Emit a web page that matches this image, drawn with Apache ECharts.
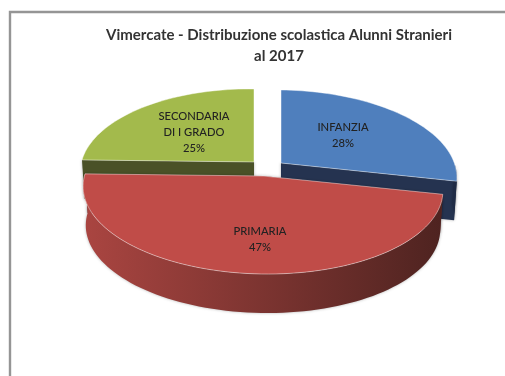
<!DOCTYPE html>
<html>
<head>
<meta charset="utf-8">
<style>html,body{margin:0;padding:0;background:#fff}#c{width:505px;height:376px}</style>
<script src="https://cdn.jsdelivr.net/npm/echarts@6/dist/echarts.min.js"></script>
</head>
<body>
<div id="c"></div>
<script>
const titleLines = ['Vimercate - Distribuzione scolastica Alunni Stranieri', 'al 2017'];
const categories = ['INFANZIA', 'PRIMARIA', 'SECONDARIA\nDI I GRADO'];
const values = [28, 47, 25];

// Presentation only: exploded apex, radius, label anchor and colours of each slice.
const looks = [
  {cx: 281, cy: 163, rx: 174, lx: 343, ly: 135, rank: 2, top: '#4f7fbd', cut: '#253350', side: ['#1f2b45', '#1f2b45']},
  {cx: 263, cy: 176, rx: 178, lx: 260, ly: 239, rank: 3, top: '#c04c48', cut: '#7a2e2c', side: ['#aa4541', '#4e2320']},
  {cx: 254, cy: 162, rx: 172, lx: 194, ly: 132.5, rank: 1, top: '#a3ba4c', cut: '#4a5127', side: ['#4a5127', '#4a5127']}
];
const RY = 83.7, PERSP = 0.146, TILT = 0.012, DEPTH = 39, SHRINK = 0.985;
const total = values.reduce((a, b) => a + b, 0);

function project(look, deg, bottom) {
  const t = deg * Math.PI / 180, u = Math.sin(t), v = Math.cos(t);
  const s = 1 / (1 + PERSP * v);
  const k = bottom ? SHRINK : 1;
  const dx = look.rx * u * s * k;
  return [look.cx + dx, look.cy - RY * v * s + TILT * dx + (bottom ? DEPTH : 0)];
}
function arc(look, a0, a1, bottom) {
  const pts = [];
  const n = Math.max(2, Math.ceil(Math.abs(a1 - a0) / 2));
  for (let i = 0; i <= n; i++) pts.push(project(look, a0 + (a1 - a0) * i / n, bottom));
  return pts;
}
function cutFace(look, deg) {
  const e0 = project(look, deg, false), e1 = project(look, deg, true);
  return [[look.cx, look.cy], e0, e1, [look.cx, look.cy + DEPTH]];
}
function poly(points, style, z2) {
  return {type: 'polygon', shape: {points}, style, z2};
}

function renderSlice(params, api) {
  const i = params.dataIndex, look = looks[i], val = api.value(1);
  let before = 0;
  for (let j = 0; j < i; j++) before += values[j];
  const a0 = before / total * 360, a1 = (before + val) / total * 360;
  const base = look.rank * 10, kids = [];
  const shade = {shadowBlur: 3, shadowColor: 'rgba(0,0,0,0.3)'};

  kids.push(poly(cutFace(look, a0), Object.assign({fill: look.cut}, shade), base));
  kids.push(poly(cutFace(look, a1), Object.assign({fill: look.cut}, shade), base));

  const f0 = Math.max(a0, 90), f1 = Math.min(a1, 270);
  if (f1 > f0) {
    const wall = arc(look, f0, f1, false).concat(arc(look, f1, f0, true));
    kids.push(poly(wall, Object.assign({
      fill: new echarts.graphic.LinearGradient(0, 0, 1, 0, [
        {offset: 0, color: look.side[0]},
        {offset: 1, color: look.side[1]}
      ], false)
    }, shade), base + 1));
  }
  const face = [[look.cx, look.cy]].concat(arc(look, a0, a1, false));
  kids.push(poly(face, {fill: look.top, stroke: 'rgba(255,255,255,0.55)', lineWidth: 0.8}, base + 2));
  kids.push({
    type: 'text', z2: 100,
    style: {
      x: look.lx, y: look.ly,
      text: categories[i] + '\n' + Math.round(val / total * 100) + '%',
      align: 'center', verticalAlign: 'middle',
      font: '500 11.2px Lato', lineHeight: 16, fill: '#222'
    }
  });
  return {type: 'group', children: kids};
}

const chart = echarts.init(document.getElementById('c'), null, {renderer: 'canvas'});
chart.setOption({
  animation: false,
  backgroundColor: '#fff',
  title: {
    text: titleLines.join('\n'),
    left: 274, top: 20, textAlign: 'center',
    textStyle: {fontFamily: 'Lato', fontSize: 15, fontWeight: 'bold', color: '#333', lineHeight: 21}
  },
  graphic: [{
    type: 'rect', silent: true, z: -1,
    shape: {x: 10, y: 12, width: 700, height: 600},
    style: {fill: '#fff', stroke: '#959595', lineWidth: 2.4}
  }],
  series: [{
    type: 'custom',
    coordinateSystem: 'none',
    renderItem: renderSlice,
    data: values.map((v, i) => [i, v])
  }]
});
</script>
</body>
</html>
